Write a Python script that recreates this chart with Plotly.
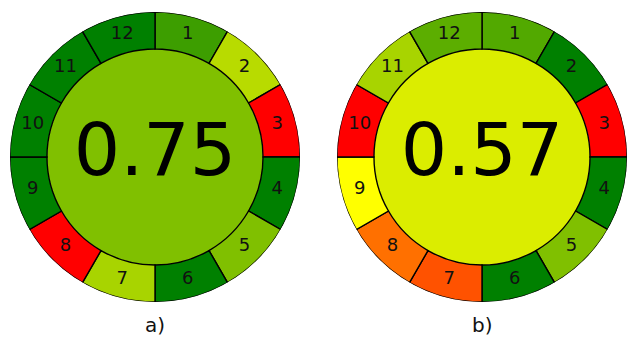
import plotly.graph_objects as go

# AGREE principle scores (1..12) and overall score for each method
principles = [str(i) for i in range(1, 13)]
scores_a = [0.88, 0.64, 0.0, 1.0, 0.75, 1.0, 0.67, 0.0, 1.0, 1.0, 1.0, 1.0]
scores_b = [0.84, 1.0, 0.0, 1.0, 0.75, 1.0, 0.16, 0.22, 0.5, 0.0, 0.67, 0.82]
total_a = 0.75
total_b = 0.57
panel_labels = ["a)", "b)"]

INNER = 0.745  # radius of the central disc (outer ring radius = 1)


def agree_color(s):
    """red (0) -> yellow (0.5) -> green (1)"""
    if s <= 0.5:
        t = s / 0.5
        r, g = 255, 255 * t
    else:
        t = (s - 0.5) / 0.5
        r, g = 255 * (1 - t), 255 - 127 * t
    return f"rgb({round(r)},{round(g)},0)"


fig = go.Figure()
panels = [(scores_a, total_a, "polar"), (scores_b, total_b, "polar2")]
theta = [(i + 0.5) * 30 for i in range(12)]

for scores, total, sp in panels:
    # central disc coloured by the overall score
    fig.add_trace(go.Barpolar(
        r=[INNER], theta=[180], width=[360], base=0,
        marker=dict(color=agree_color(total), line=dict(width=0)),
        subplot=sp, hoverinfo="skip", showlegend=False,
    ))
    # ring of 12 principle segments
    fig.add_trace(go.Barpolar(
        r=[1 - INNER] * 12, theta=theta, width=[30] * 12, base=INNER,
        marker=dict(color=[agree_color(s) for s in scores],
                    line=dict(color="black", width=1.4)),
        subplot=sp, showlegend=False,
    ))
    fig.add_trace(go.Scatterpolar(
        r=[(1 + INNER) / 2] * 12, theta=theta, mode="text", text=principles,
        textfont=dict(family="DejaVu Sans", size=18, color="#111"),
        subplot=sp, showlegend=False, hoverinfo="skip",
    ))
    fig.add_trace(go.Scatterpolar(
        r=[0], theta=[0], mode="text", text=[f"{total:.2f}"],
        textfont=dict(family="DejaVu Sans", size=73, color="black"),
        subplot=sp, showlegend=False, hoverinfo="skip",
    ))

W, H = 627, 338
polar_common = dict(
    bgcolor="rgba(0,0,0,0)",
    radialaxis=dict(range=[0, 1], visible=False),
    angularaxis=dict(direction="clockwise", rotation=90, visible=False),
    bargap=0,
)
fig.update_layout(
    width=W, height=H,
    margin=dict(l=0, r=0, t=0, b=0),
    paper_bgcolor="white",
    polar=dict(domain=dict(x=[10 / W, 300 / W], y=[36 / H, 326 / H]), **polar_common),
    polar2=dict(domain=dict(x=[337 / W, 627 / W], y=[36 / H, 326 / H]), **polar_common),
)

for label, cx in zip(panel_labels, [155 / W, 482 / W]):
    fig.add_annotation(
        x=cx, y=13 / H, xref="paper", yref="paper", text=label, showarrow=False,
        font=dict(family="DejaVu Sans", size=20, color="#111"),
        xanchor="center", yanchor="middle",
    )

fig.write_html("out.html")
